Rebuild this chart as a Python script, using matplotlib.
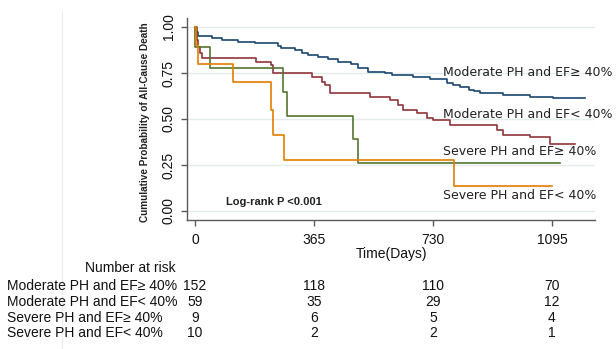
import matplotlib
matplotlib.use("Agg")
import matplotlib.pyplot as plt
from matplotlib.lines import Line2D
import matplotlib.transforms as mtransforms

# Kaplan-Meier step data: event times (days) and survival after each step
groups = ["Moderate PH and EF\u2265 40%", "Moderate PH and EF< 40%",
          "Severe PH and EF\u2265 40%", "Severe PH and EF< 40%"]

mod_pef_t = [0, 3, 8, 51, 82, 132, 184, 255, 264, 307, 327, 347, 378, 409, 439,
             480, 500, 531, 583, 603, 670, 721, 772, 790, 813, 840, 855, 874, 945,
             1028, 1099, 1196]
mod_pef_s = [1.0, 0.974, 0.951, 0.938, 0.929, 0.92, 0.911, 0.897, 0.884, 0.875,
             0.861, 0.848, 0.835, 0.824, 0.812, 0.799, 0.775, 0.757, 0.751, 0.739,
             0.73, 0.716, 0.694, 0.685, 0.672, 0.66, 0.65, 0.643, 0.63, 0.621,
             0.612, 0.612]

mod_ref_t = [0, 5, 10, 15, 20, 187, 233, 240, 358, 389, 400, 414, 537, 598, 624,
             639, 681, 712, 730, 782, 926, 946, 1028, 1089, 1166]
mod_ref_s = [1.0, 0.929, 0.893, 0.858, 0.83, 0.812, 0.793, 0.748, 0.73, 0.703,
             0.685, 0.643, 0.621, 0.603, 0.576, 0.549, 0.532, 0.505, 0.495, 0.467,
             0.44, 0.413, 0.40, 0.364, 0.364]

sev_pef_t = [0, 1, 46, 269, 281, 484, 499, 1120]
sev_pef_s = [1.0, 0.889, 0.778, 0.648, 0.519, 0.389, 0.259, 0.259]

sev_ref_t = [0, 4, 8, 117, 233, 240, 274, 794, 1095]
sev_ref_s = [1.0, 0.9, 0.8, 0.7, 0.55, 0.413, 0.275, 0.1375, 0.1375]

series_t = [mod_pef_t, mod_ref_t, sev_pef_t, sev_ref_t]
series_s = [mod_pef_s, mod_ref_s, sev_pef_s, sev_ref_s]
colors = ["#1a476f", "#90353b", "#55752f", "#e37e00"]

# curve labels placed at the right of the plot (x in days, y in probability)
label_x = 761
label_y = [0.752, 0.522, 0.322, 0.0815]

# number-at-risk table
risk_times = [0, 365, 730, 1095]
risk_counts = [[152, 118, 110, 70],
               [59, 35, 29, 12],
               [9, 6, 5, 4],
               [10, 2, 2, 1]]

W, H = 616, 349
fig = plt.figure(figsize=(W / 100, H / 100), dpi=100)
ax = fig.add_axes([187 / W, 1 - 220 / H, (595 - 187) / W, (220 - 18) / H])

for t, s, c in zip(series_t, series_s, colors):
    ax.step(t, s, where="post", color=c, lw=1.2, zorder=3)

for name, y in zip(groups, label_y):
    ax.text(label_x, y, name, fontsize=9, family="DejaVu Sans",
            va="center", ha="left", color="#222222", zorder=4)

ax.text(95, 0.05, "Log-rank P <0.001", fontsize=8, fontweight="bold",
        family=["Liberation Sans", "DejaVu Sans"], ha="left", va="center",
        color="#222222")

ax.set_xlim(-24.5, 1227)
ax.set_ylim(-0.049, 1.049)
ax.set_xticks(risk_times)
ax.set_yticks([0, 0.25, 0.5, 0.75, 1.0])
ax.set_yticklabels(["0.00", "0.25", "0.50", "0.75", "1.00"], rotation=90,
                   va="center")
for lab in ax.get_xticklabels() + ax.get_yticklabels():
    lab.set_family(["Liberation Sans", "DejaVu Sans"])
for lab in ax.get_xticklabels():
    lab.set_fontsize(10)
for lab in ax.get_yticklabels():
    lab.set_fontsize(10)

ax.yaxis.grid(True, color="#e4ecec", lw=1.0, zorder=0)
ax.set_axisbelow(True)
for side in ("top", "right"):
    ax.spines[side].set_visible(False)
for side in ("left", "bottom"):
    ax.spines[side].set_color("#5a5a5a")
    ax.spines[side].set_linewidth(1.0)
ax.tick_params(axis="both", color="#5a5a5a", length=4.5, width=1.0,
               labelcolor="#111111")
ax.tick_params(axis="y", pad=3.5)
ax.tick_params(axis="x", pad=5)

fig.text(145 / W, 1 - 122 / H, "Cumulative Probability of All-Cause Death",
         rotation=90, fontsize=7.2, fontweight="bold",
         family=["Liberation Sans", "DejaVu Sans"], ha="center", va="center",
         color="#222222")

fig.text(391 / W, 1 - 254.3 / H, "Time(Days)", fontsize=10,
         family=["Liberation Sans", "DejaVu Sans"], ha="center", va="center",
         color="#111111")

# number at risk
fig.text(130 / W, 1 - 268.3 / H, "Number at risk", fontsize=10,
         family=["Liberation Sans", "DejaVu Sans"], ha="center", va="center",
         color="#111111")
row_y = [286, 301.7, 317.7, 333.3]
trans = mtransforms.blended_transform_factory(ax.transData, fig.transFigure)
for name, counts, py in zip(groups, risk_counts, row_y):
    yf = 1 - py / H
    fig.text(7 / W, yf, name, fontsize=10,
             family=["Liberation Sans", "DejaVu Sans"], ha="left", va="center",
             color="#111111")
    for tx, n in zip(risk_times, counts):
        ax.text(tx, yf, str(n), transform=trans, fontsize=10,
                family=["Liberation Sans", "DejaVu Sans"], ha="center",
                va="center", color="#111111", clip_on=False)

# thin frame edge on the left of the panel
fig.add_artist(Line2D([62 / W, 62 / W], [0, 1 - 11 / H],
                      transform=fig.transFigure, color="#ececec", lw=0.8))

fig.savefig("out.png", dpi=100)
